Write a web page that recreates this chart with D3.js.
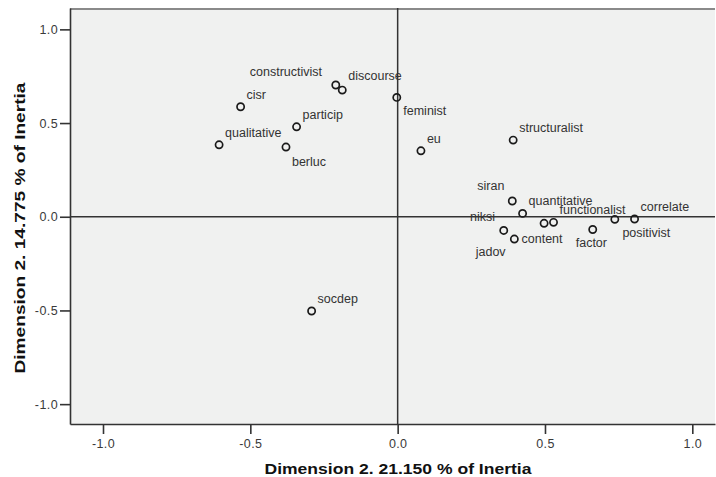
<!DOCTYPE html>
<html>
<head>
<meta charset="utf-8">
<script src="https://cdn.jsdelivr.net/npm/d3@7"></script>
<style>
  html, body { margin: 0; padding: 0; background: #ffffff; }
  svg { display: block; }
</style>
</head>
<body>
<svg id="chart" width="716" height="477"></svg>
<script>
// ---- Data ----
const categories = ["constructivist","discourse","cisr","particip","qualitative","berluc",
  "feminist","eu","structuralist","socdep","siran","quantitative","niksi","jadov",
  "content","functionalist","factor","positivist","correlate"];
const dim1Values = [-0.210,-0.188,-0.533,-0.343,-0.606,-0.379,
  -0.003,0.079,0.392,-0.292,0.389,0.424,0.360,0.396,
  0.497,0.529,0.662,0.737,0.804];
const dim2Values = [0.703,0.676,0.587,0.480,0.384,0.372,
  0.637,0.352,0.409,-0.503,0.084,0.018,-0.073,-0.119,
  -0.035,-0.030,-0.068,-0.014,-0.012];
const xTickValues = [-1.0,-0.5,0.0,0.5,1.0];
const yTickValues = [-1.0,-0.5,0.0,0.5,1.0];
const xTitle = "Dimension 2. 21.150 % of Inertia";
const yTitle = "Dimension 2. 14.775 % of Inertia";

// label placement relative to its point (px); default upper-right
const labelOffsets = {
  constructivist: [-86, -9], discourse: [6, -10], berluc: [6, 18.5],
  feminist: [6.5, 17.7], siran: [-35, -11], niksi: [-33.7, -9.6],
  jadov: [-38.6, 17], content: [-22.6, 20], factor: [-17, 18], positivist: [7.6, 17.4]
};
const defaultOffset = [6, -8];

// ---- Layout ----
const plot = { left: 70, right: 715, top: 8, bottom: 424 };
const svg = d3.select("#chart");

const x = d3.scaleLinear().domain([-1.112, 1.077]).range([plot.left, plot.right]);
const y = d3.scaleLinear().domain([-1.106, 1.114]).range([plot.bottom, plot.top]);

// background
svg.append("rect")
  .attr("x", plot.left).attr("y", plot.top)
  .attr("width", plot.right - plot.left).attr("height", plot.bottom - plot.top)
  .attr("fill", "#f0f1f0");

// top border (gray)
svg.append("line")
  .attr("x1", plot.left).attr("x2", plot.right)
  .attr("y1", plot.top + 1).attr("y2", plot.top + 1)
  .attr("stroke", "#8a8a8a").attr("stroke-width", 2.2);

const fmt = d => d.toFixed(1);

// axes
const yAxis = svg.append("g")
  .attr("transform", `translate(${plot.left},0)`)
  .call(d3.axisLeft(y).tickValues(yTickValues).tickFormat(fmt).tickSize(10).tickPadding(2).tickSizeOuter(0));
const xAxis = svg.append("g")
  .attr("transform", `translate(0,${plot.bottom})`)
  .call(d3.axisBottom(x).tickValues(xTickValues).tickFormat(fmt).tickSize(10).tickPadding(5).tickSizeOuter(0));

[xAxis, yAxis].forEach(g => {
  g.select(".domain").attr("stroke", "#333").attr("stroke-width", 1.6);
  g.selectAll(".tick line").attr("stroke", "#333").attr("stroke-width", 1.6);
  g.selectAll(".tick text")
    .attr("fill", "#3a3a3a")
    .style("font-family", "'Liberation Sans', Arial, sans-serif")
    .style("font-size", "12.5px")
    .style("letter-spacing", "0.4px");
});

// reference lines at 0
svg.append("line")
  .attr("x1", x(0)).attr("x2", x(0))
  .attr("y1", plot.top).attr("y2", plot.bottom)
  .attr("stroke", "#333").attr("stroke-width", 1.5);
svg.append("line")
  .attr("x1", plot.left).attr("x2", plot.right)
  .attr("y1", y(0)).attr("y2", y(0))
  .attr("stroke", "#333").attr("stroke-width", 1.5);

// points
const points = categories.map((c, i) => ({ name: c, d1: dim1Values[i], d2: dim2Values[i] }));

svg.append("g").selectAll("circle")
  .data(points).join("circle")
  .attr("cx", d => x(d.d1)).attr("cy", d => y(d.d2))
  .attr("r", 3.6)
  .attr("fill", "none")
  .attr("stroke", "#1a1a1a").attr("stroke-width", 1.7);

svg.append("g").selectAll("text")
  .data(points).join("text")
  .attr("x", d => x(d.d1) + (labelOffsets[d.name] || defaultOffset)[0])
  .attr("y", d => y(d.d2) + (labelOffsets[d.name] || defaultOffset)[1])
  .attr("fill", "#333")
  .style("font-family", "'Liberation Sans', Arial, sans-serif")
  .style("font-size", "12.5px")
  .text(d => d.name);

// titles
svg.append("text")
  .attr("x", 398).attr("y", 474)
  .attr("text-anchor", "middle")
  .attr("textLength", 267).attr("lengthAdjust", "spacingAndGlyphs")
  .attr("fill", "#111")
  .style("font-family", "'Liberation Sans', Arial, sans-serif")
  .style("font-size", "15px").style("font-weight", "bold")
  .text(xTitle);

svg.append("text")
  .attr("transform", "translate(25,228) rotate(-90)")
  .attr("text-anchor", "middle")
  .attr("textLength", 291).attr("lengthAdjust", "spacingAndGlyphs")
  .attr("fill", "#111")
  .style("font-family", "'Liberation Sans', Arial, sans-serif")
  .style("font-size", "15px").style("font-weight", "bold")
  .text(yTitle);
</script>
</body>
</html>
